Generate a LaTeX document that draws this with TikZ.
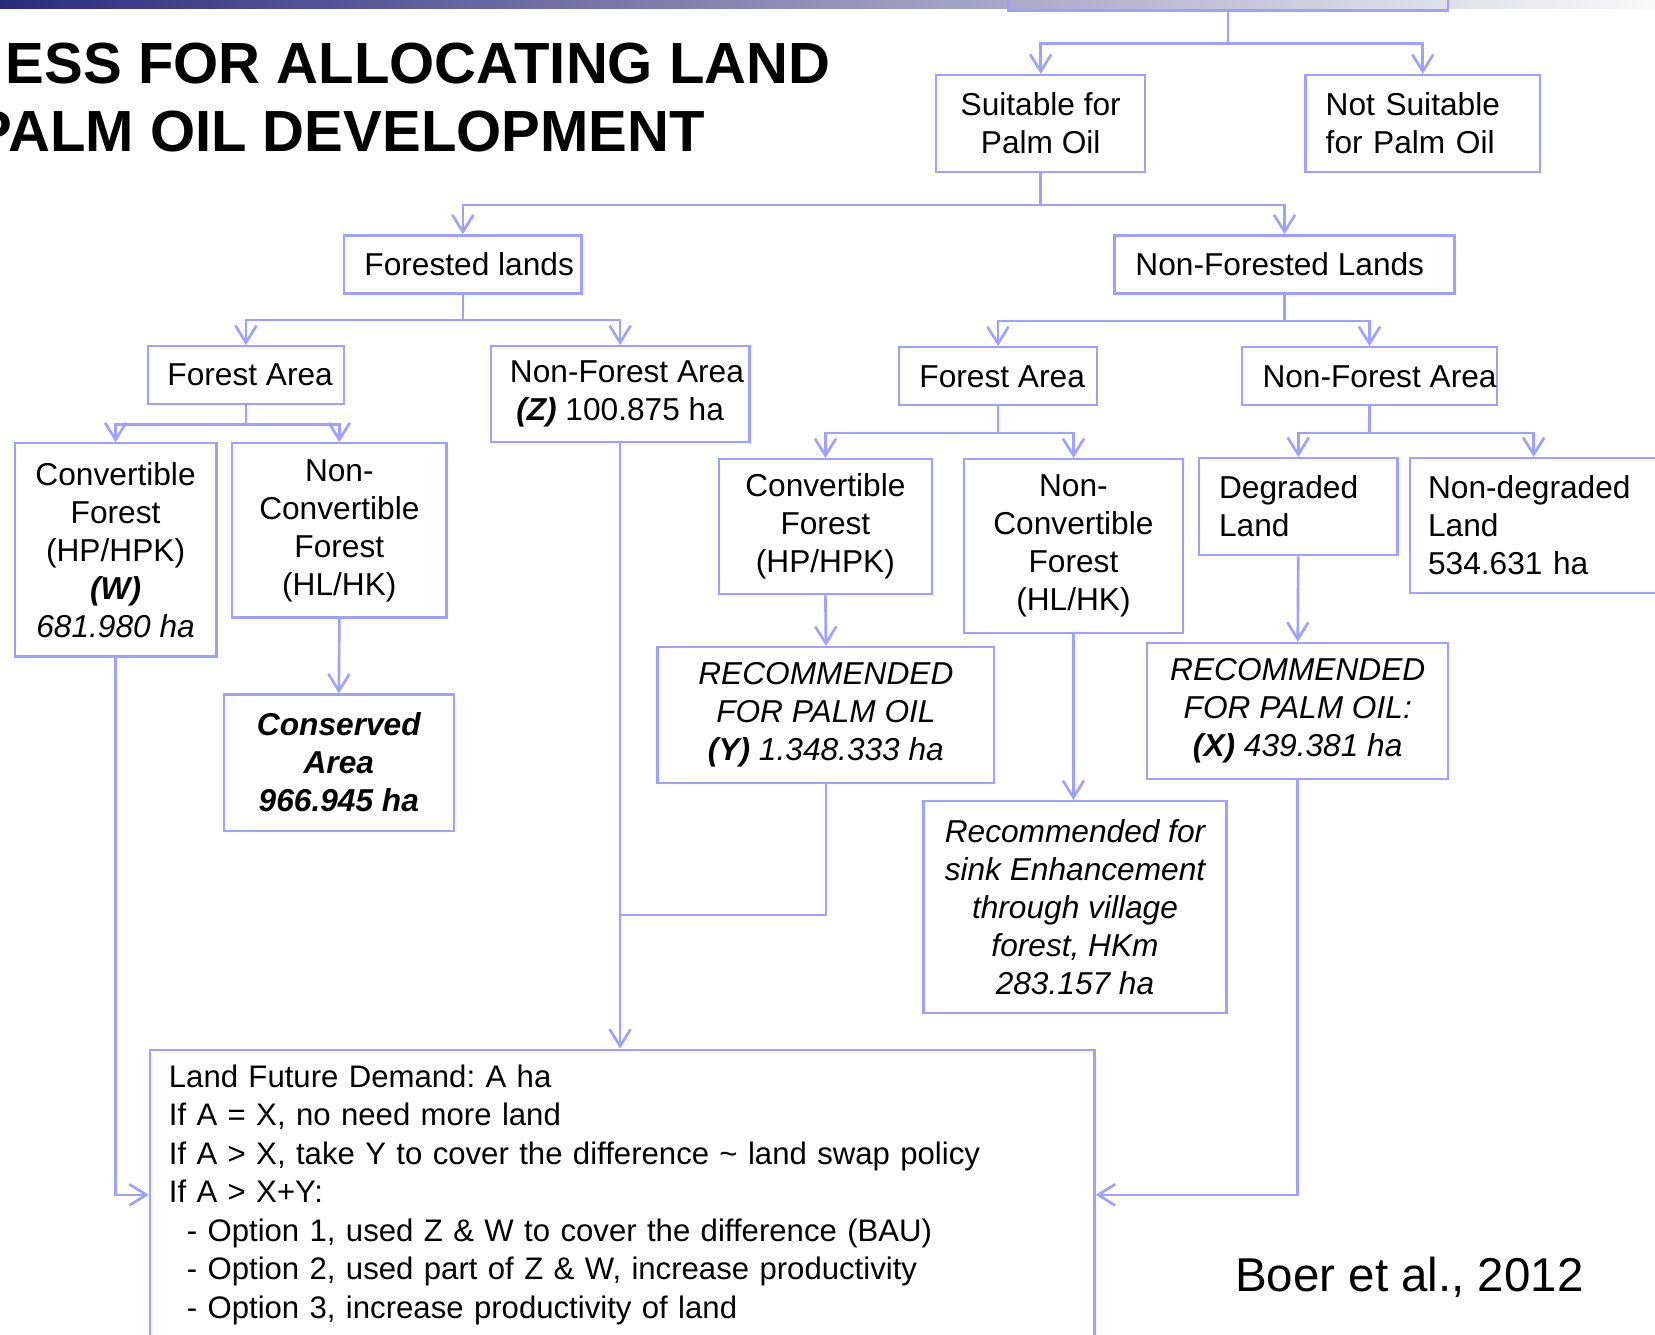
\documentclass[tikz,border=0pt]{standalone}
\usepackage{fontspec}
\setmainfont{Liberation Sans}
\frenchspacing
\usepackage{tikz}
\usetikzlibrary{arrows.meta}

\definecolor{flowline}{RGB}{160,160,255}
\definecolor{barleft}{RGB}{43,43,124}
\definecolor{barmid}{RGB}{172,172,198}
\definecolor{barright}{RGB}{250,250,250}

\begin{document}
\begin{tikzpicture}[x=1pt,y=-1pt,
    >={Straight Barb[length=16pt,width=20pt]},
    box/.style={draw=flowline, line width=2.2pt, inner sep=0pt, align=center,
        font=\fontsize{30}{36}\selectfont},
    lbox/.style={box, align=left, inner xsep=19pt},
    textshift/.style={execute at begin node={\hspace*{#1}}},
    link/.style={draw=flowline, line width=2.5pt}]
\useasboundingbox (0,0) rectangle (1568,1264);
\clip (0,0) rectangle (1568,1264);
\shade[left color=barleft, middle color=barmid, right color=barright] (0,0) rectangle (1568,8);

% title and source
    \node[anchor=base east, inner sep=0pt, font=\bfseries\fontsize{55}{66}\selectfont] (title_top) at (787,79) {ESS FOR ALLOCATING LAND};
    \node[anchor=base east, inner sep=0pt, font=\bfseries\fontsize{55}{66}\selectfont] (title_bottom) at (668,144) {PALM OIL DEVELOPMENT};
    \node[anchor=base west, inner sep=0pt, font=\fontsize{45}{54}\selectfont] (source) at (1170,1224) {Boer et al., 2012};

% boxes
    \node[box, minimum width=417pt, minimum height=60pt] (top_box) at (1163.5,-20) {};
    \node[box, minimum width=198pt, minimum height=92pt] (suitable) at (986,117) {Suitable for\\Palm Oil};
    \node[lbox, text width=184pt, minimum height=92pt] (not_suitable) at (1348,117) {Not Suitable\\for Palm Oil};
    \node[box, textshift=12pt, minimum width=225pt, minimum height=55pt] (forested) at (438.5,250.5) {Forested lands};
    \node[box, textshift=-9pt, minimum width=322pt, minimum height=55pt] (non_forested) at (1217,250.5) {Non-Forested Lands};
    \node[box, textshift=8pt, minimum width=186pt, minimum height=55pt] (forest_l) at (233,355.5) {Forest Area};
    \node[box, minimum width=245pt, minimum height=91pt] (nonforest_l) at (587.5,373.5) {\hspace*{13pt}Non-Forest Area\\\textbf{\textit{(Z)}} 100.875 ha};
    \node[box, textshift=8pt, minimum width=187pt, minimum height=55pt] (forest_r) at (945.5,356.5) {Forest Area};
    \node[box, textshift=19pt, minimum width=241pt, minimum height=55pt] (nonforest_r) at (1297.5,356.5) {Non-Forest Area};
    \node[box, minimum width=191pt, minimum height=202pt] (conv_l) at (109.5,521) {Convertible\\Forest\\(HP/HPK)\\\textbf{\textit{(W)}}\\\textit{681.980 ha}};
    \node[box, minimum width=203pt, minimum height=165pt] (nonconv_l) at (321.5,502.5) {Non-\\Convertible\\Forest\\(HL/HK)};
    \node[box, minimum width=218pt, minimum height=129pt, font=\bfseries\itshape\fontsize{30}{36}\selectfont] (conserved) at (321,722.5) {Conserved\\Area\\966.945 ha};
    \node[box, minimum width=202pt, minimum height=128pt] (conv_r) at (782,499) {Convertible\\Forest\\(HP/HPK)};
    \node[box, minimum width=208pt, minimum height=165pt] (nonconv_r) at (1017,517.5) {Non-\\Convertible\\Forest\\(HL/HK)};
    \node[lbox, text width=150pt, minimum height=92pt] (degraded) at (1230,480) {Degraded\\Land};
    \node[lbox, text width=200pt, inner xsep=17pt, minimum height=128pt] (nondegraded) at (1453,498) {Non-degraded\\Land\\534.631 ha};
    \node[box, minimum width=319pt, minimum height=129pt, font=\itshape\fontsize{30}{36}\selectfont] (rec_y) at (782.5,677.5) {RECOMMENDED\\FOR PALM OIL\\\textbf{(Y)} 1.348.333 ha};
    \node[box, minimum width=287pt, minimum height=201pt, font=\itshape\fontsize{30}{36}\selectfont] (sink) at (1018.5,859.5) {Recommended for\\sink Enhancement\\through village\\forest, HKm\\283.157 ha};
    \node[box, minimum width=285pt, minimum height=129pt, font=\itshape\fontsize{30}{36}\selectfont] (rec_x) at (1229.5,673.5) {RECOMMENDED\\FOR PALM OIL:\\\textbf{(X)} 439.381 ha};
    \node[box, align=left, text width=859pt, inner xsep=18pt, minimum height=275pt, font=\fontsize{29.5}{36.5}\selectfont] (demand) at (589.5,1132) {Land Future Demand: A ha\\
        If A = X, no need more land\\
        If A > X, take Y to cover the difference \textasciitilde{} land swap policy\\
        If A > X+Y:\\
        \hspace*{17pt}- Option 1, used Z \& W to cover the difference (BAU)\\
        \hspace*{17pt}- Option 2, used part of Z \& W, increase productivity\\
        \hspace*{17pt}- Option 3, increase productivity of land};
    \coordinate (merge) at (587.5,867);

% tree arrows
    \draw[link,->] (top_box.south) -- ++(0,30) -| (suitable.north);
    \draw[link,->] (top_box.south) -- ++(0,30) -| (not_suitable.north);
    \draw[link,->] (suitable.south) -- ++(0,30) -| (forested.north);
    \draw[link,->] (suitable.south) -- ++(0,30) -| (non_forested.north);
    \draw[link,->] (forested.south) -- ++(0,24) -| (forest_l.north);
    \draw[link,->] (forested.south) -- ++(0,24) -| (nonforest_l.north);
    \draw[link,->] (non_forested.south) -- ++(0,25) -| (forest_r.north);
    \draw[link,->] (non_forested.south) -- ++(0,25) -| (nonforest_r.north);
    \draw[link,->] (forest_l.south) -- ++(0,18) -| (conv_l.north);
    \draw[link,->] (forest_l.south) -- ++(0,18) -| (nonconv_l.north);
    \draw[link,->] (forest_r.south) -- ++(0,25) -| (conv_r.north);
    \draw[link,->] (forest_r.south) -- ++(0,25) -| (nonconv_r.north);
    \draw[link,->] (nonforest_r.south) -- ++(0,25) -| (degraded.north);
    \draw[link,->] (nonforest_r.south) -- ++(0,25) -| (nondegraded.north);

% straight down
    \draw[link,->] (nonconv_l.south) -- (conserved.north);
    \draw[link,->] (conv_r.south) -- (rec_y.north);
    \draw[link,->] (nonconv_r.south) -- (nonconv_r.south |- sink.north);
    \draw[link,->] (degraded.south) -- (rec_x.north);

% into the demand box
    \draw[link,->] (conv_l.south) |- (demand.west);
    \draw[link,->] (nonforest_l.south) -- (nonforest_l.south |- demand.north);
    \draw[link] (rec_y.south) |- (merge);
    \draw[link,->] (rec_x.south) |- (demand.east);
\end{tikzpicture}
\end{document}
